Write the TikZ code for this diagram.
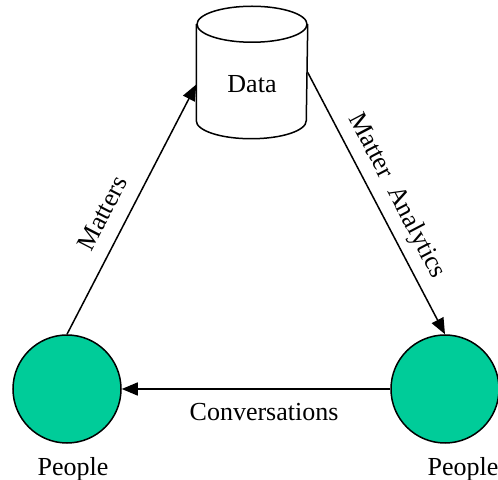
\documentclass[tikz,border=0pt]{standalone}
\usepackage{fontspec}
\setmainfont{Liberation Serif}
\usepackage{tikz}
\usetikzlibrary{arrows.meta,calc}
\definecolor{pplgreen}{RGB}{0,204,153}
\tikzstyle{person}=[circle, draw, fill=pplgreen,% a flat green disc
minimum size=54pt, line width=0.75pt, inner sep=0pt]
\tikzstyle{store}=[rectangle, minimum width=55pt, minimum height=65.5pt, inner sep=0pt]
\tikzstyle{drum}=[-, draw, fill=white, line width=0.75pt]
\tikzstyle{flow}=[-{Triangle[length=8pt,width=6.5pt]}, line width=0.75pt]

\begin{document}
\begin{tikzpicture}[x=0.5pt,y=-0.5pt,flow,font=\fontsize{13pt}{15pt}\selectfont]
\useasboundingbox (0,0) rectangle (498,480);
\node[store] (data) at (252,72.5) {};
% the cylinder round the data node
\path[drum] ($(data.north west)+(0,18)$) -- ($(data.south west)+(0,-18)$)
  arc[start angle=180, end angle=0, x radius=55, y radius=18]
  -- ($(data.north east)+(0,18)$);
\path[drum] ($(data.north)+(0,18)$) ellipse[x radius=55, y radius=18];
\node (datatxt) at ($(data.center)+(0,12)$) {Data};
\node[person, label={[xshift=3pt,label distance=3pt]below:People}] (ppl1) at (67,389) {};
\node[person, label={[xshift=9pt,label distance=3pt]below:People}] (ppl2) at (445,389) {};
\draw (ppl1.north) -- ($(data.west)+(0,12)$) node[pos=0.44, sloped, above=4pt] {Matters};
\draw (data.east) -- (ppl2.north) node[pos=0.51, sloped, above=1pt] {Matter\ \ Analytics};
\draw (ppl2) -- (ppl1) node[pos=0.47, below=3.5pt] {Conversations};
\end{tikzpicture}
\end{document}
